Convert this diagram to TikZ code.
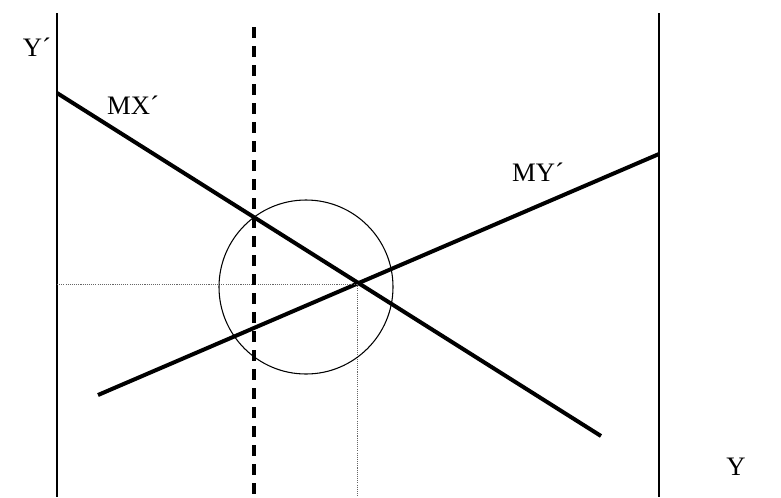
\documentclass[tikz,border=0pt]{standalone}
\usepackage{fontspec}
\setmainfont{Liberation Serif}
\begin{document}
\begin{tikzpicture}[
      x=0.75pt, y=-0.75pt,
      frame/.style={line width=1.6pt, black},
      curve/.style={line width=3pt, black},
      guide/.style={line width=0.7pt, gray!80!black, dash pattern=on 0.8pt off 0.8pt},
      limit/.style={line width=2.6pt, black, dash pattern=on 8.25pt off 6pt},
      lbl/.style={font=\fontsize{20}{24}\selectfont, inner sep=0pt}
    ]
      \useasboundingbox (0,0) rectangle (781,497);
      % axes
      \coordinate (lt) at (57,13);
      \coordinate (lb) at (57,497);
      \coordinate (rt) at (659,13);
      \coordinate (rb) at (659,497);
      \draw[frame] (lt) -- (lb);
      \draw[frame] (rt) -- (rb);
      % marginal curves
      \coordinate (mxs) at (57,93);
      \coordinate (mxe) at (601,436);
      \coordinate (mys) at (98,395);
      \coordinate (mye) at (659,154);
      \draw[curve] (mxs) -- (mxe);
      \draw[curve] (mys) -- (mye);
      % equilibrium
      \coordinate (eq) at (357,284);
      \coordinate (eql) at (57,284);
      \coordinate (eqb) at (357,497);
      \draw[guide] (eql) -- (eq);
      \draw[guide] (eq) -- (eqb);
      % constraint
      \coordinate (ct) at (254,27);
      \coordinate (cb) at (254,497);
      \draw[limit] (ct) -- (cb);
      \node[draw, circle, line width=0.8pt, minimum size=130.5pt, inner sep=0pt] (zone) at (306,287) {};
      % labels
      \node[lbl] (ylab) at (37,47) {Y´};
      \node[lbl] (mxlab) at (133,105) {MX´};
      \node[lbl] (mylab) at (538,172) {MY´};
      \node[lbl] (xlab) at (736,467) {Y};
    \end{tikzpicture}
\end{document}
